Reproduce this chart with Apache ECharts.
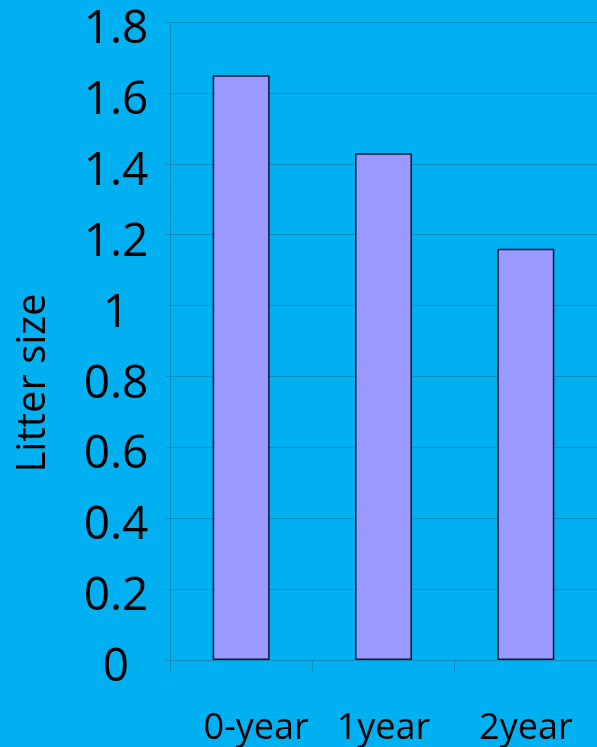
<!DOCTYPE html>
<html>
<head>
<meta charset="utf-8">
<script src="https://cdn.jsdelivr.net/npm/echarts@6/dist/echarts.min.js"></script>
<style>
  html, body { margin: 0; padding: 0; background: #00B0F0; }
  #chart { width: 597px; height: 747px; }
</style>
</head>
<body>
<div id="chart"></div>
<script>
// Litter size by age class
const categories = ['0-year', '1year', '2year'];
const litterSize = [1.65, 1.43, 1.16];
const yTicks = { min: 0, max: 1.8, interval: 0.2 };

const gridColor = '#0a8cc0';
const font = '"Open Sans", "Noto Sans", sans-serif';

const chart = echarts.init(document.getElementById('chart'), null, { renderer: 'canvas' });
chart.setOption({
  backgroundColor: '#00B0F0',
  animation: false,
  grid: { left: 170, right: 0, top: 22, bottom: 84, containLabel: false },
  xAxis: {
    type: 'category',
    data: categories.map((c, i) => i === 0
      ? { value: c, textStyle: { padding: [6, 0, 0, 30] } }
      : { value: c, textStyle: { padding: [6, 0, 0, 0] } }),
    axisLine: { lineStyle: { color: gridColor, width: 1 } },
    axisTick: { show: true, length: 13, lineStyle: { color: gridColor } },
    axisLabel: {
      color: '#000', fontFamily: font, fontSize: 36, margin: 45
    },
    splitLine: { show: false }
  },
  yAxis: {
    type: 'value',
    min: yTicks.min, max: yTicks.max, interval: yTicks.interval,
    name: 'Litter size',
    nameLocation: 'middle',
    nameRotate: 90,
    nameGap: 116,
    nameTextStyle: {
      color: '#000', fontFamily: font, fontSize: 40,
      padding: [0, 84, 0, 0]
    },
    axisLine: { show: true, lineStyle: { color: gridColor, width: 1 } },
    axisTick: { show: true, length: 4, lineStyle: { color: gridColor } },
    axisLabel: {
      color: '#000', fontFamily: font, fontSize: 46, margin: 54, align: 'center',
      verticalAlign: 'top', lineHeight: 16
    },
    splitLine: { show: true, lineStyle: { color: gridColor, width: 1 } }
  },
  series: [{
    type: 'bar',
    data: litterSize,
    barWidth: '40%',
    itemStyle: { color: '#9999FF', borderColor: '#141432', borderWidth: 1.5 }
  }]
});
</script>
</body>
</html>
